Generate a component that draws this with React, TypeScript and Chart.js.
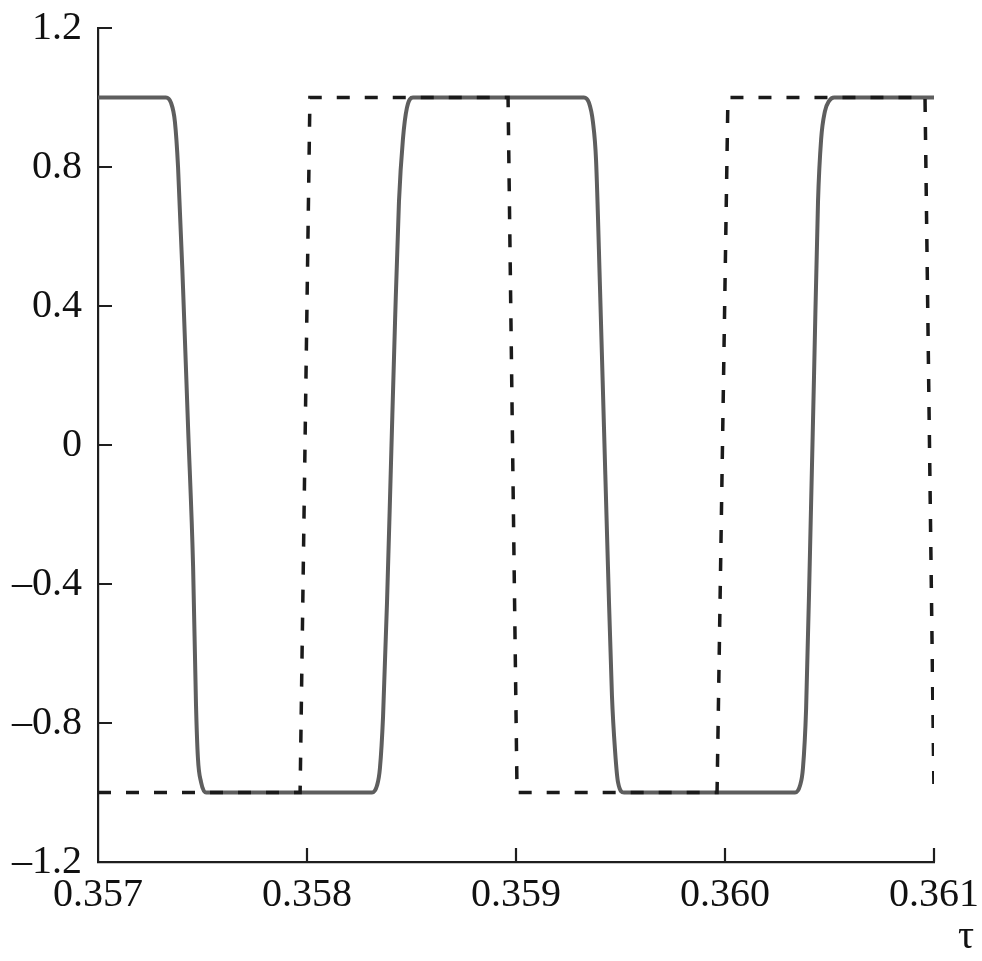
import React, { useEffect, useRef } from "react";
import { Chart, registerables } from "chart.js";

Chart.register(...registerables);

// Solid (gray) curve: tau, value
const solidTau = [
  0.357, 0.357325, 0.357349, 0.357368, 0.357383, 0.357407, 0.357431, 0.357455, 0.357469, 0.357478, 0.357493, 0.357517,
  0.358311, 0.358335, 0.358349, 0.358364, 0.358383, 0.358402, 0.358421, 0.35844, 0.358459, 0.358478, 0.358507,
  0.359325, 0.359349, 0.359368, 0.359383, 0.359402, 0.359421, 0.35944, 0.359459, 0.359474, 0.359488, 0.359517,
  0.360335, 0.360359, 0.360373, 0.360388, 0.360407, 0.360426, 0.360445, 0.36046, 0.360478, 0.360498, 0.360522,
  0.361,
];
const solidValues = [
  1.0, 1.0, 0.985, 0.93, 0.8, 0.45, 0.05, -0.35, -0.75, -0.9, -0.97, -1.0,
  -1.0, -0.98, -0.93, -0.78, -0.45, -0.05, 0.35, 0.7, 0.88, 0.97, 1.0,
  1.0, 0.985, 0.93, 0.82, 0.45, 0.05, -0.35, -0.72, -0.88, -0.97, -1.0,
  -1.0, -0.98, -0.93, -0.76, -0.3, 0.2, 0.7, 0.88, 0.96, 0.99, 1.0,
  1.0,
];

// Dashed (black) curve: tau, value
const dashedTau = [0.357, 0.357967, 0.358014, 0.358962, 0.359005, 0.359962, 0.360014, 0.360957, 0.361];
const dashedValues = [-1, -1, 1, 1, -1, -1, 1, 1, -1];

const xTickValues = [0.357, 0.358, 0.359, 0.36, 0.361];
const xTickLabels = ["0.357", "0.358", "0.359", "0.360", "0.361"];
const yTickValues = [-1.2, -0.8, -0.4, 0, 0.4, 0.8, 1.2];
const yTickLabels = ["–1.2", "–0.8", "–0.4", "0", "0.4", "0.8", "1.2"];
const xAxisTitle = "τ";

const FONT = "'Liberation Serif', 'Times New Roman', Times, serif";
const AXIS_COLOR = "#1e1e1e";

function labelFor(values: number[], labels: string[], v: number) {
  let best = 0;
  for (let i = 0; i < values.length; i++) {
    if (Math.abs(values[i] - v) < Math.abs(values[best] - v)) best = i;
  }
  return labels[best];
}

export default function App() {
  const ref = useRef<HTMLCanvasElement | null>(null);

  useEffect(() => {
    if (!ref.current) return;
    const inwardTicks = {
      id: "inwardTicks",
      afterDraw(chart: any) {
        const { ctx, chartArea, scales } = chart;
        const x = scales.x;
        const y = scales.y;
        ctx.save();
        ctx.strokeStyle = AXIS_COLOR;
        ctx.lineWidth = 2.2;
        ctx.beginPath();
        yTickValues.forEach((v) => {
          if (v === yTickValues[0]) return;
          const py = Math.round(y.getPixelForValue(v));
          ctx.moveTo(chartArea.left, py);
          ctx.lineTo(chartArea.left + 14, py);
        });
        xTickValues.forEach((v) => {
          if (v === xTickValues[0]) return;
          const px = Math.round(x.getPixelForValue(v));
          ctx.moveTo(px, chartArea.bottom);
          ctx.lineTo(px, chartArea.bottom - 14);
        });
        ctx.stroke();
        ctx.fillStyle = "#111";
        ctx.font = `40px ${FONT}`;
        ctx.textAlign = "right";
        ctx.textBaseline = "alphabetic";
        ctx.fillText(xAxisTitle, chartArea.right + 40, chartArea.bottom + 86);
        ctx.restore();
      },
    };

    const chart = new Chart(ref.current, {
      type: "line",
      data: {
        datasets: [
          {
            label: "dashed",
            data: dashedTau.map((t, i) => ({ x: t, y: dashedValues[i] })),
            borderColor: "#1a1a1a",
            borderWidth: 3.5,
            borderDash: [13, 15],
            pointRadius: 0,
            tension: 0,
            fill: false,
          },
          {
            label: "solid",
            data: solidTau.map((t, i) => ({ x: t, y: solidValues[i] })),
            borderColor: "#5e5e5e",
            borderWidth: 4,
            pointRadius: 0,
            cubicInterpolationMode: "monotone",
            fill: false,
          },
        ],
      },
      options: {
        responsive: false,
        animation: false,
        layout: { padding: { top: 28, left: 0, right: 48, bottom: 0 } },
        plugins: {
          legend: { display: false },
          tooltip: { enabled: false },
        },
        scales: {
          x: {
            type: "linear",
            min: 0.357,
            max: 0.361,
            afterBuildTicks: (scale: any) => {
              scale.ticks = xTickValues.map((v) => ({ value: v }));
            },
            afterFit: (scale: any) => {
              scale.height = 99;
              scale.paddingLeft = 0;
              scale.paddingRight = 0;
            },
            ticks: {
              color: "#111",
              font: { family: FONT, size: 40 },
              padding: 9,
              maxRotation: 0,
              autoSkip: false,
              callback: (v: any) => labelFor(xTickValues, xTickLabels, Number(v)),
            },
            grid: { display: true, drawOnChartArea: false, drawTicks: false },
            border: { display: true, color: AXIS_COLOR, width: 2.2 },
          },
          y: {
            type: "linear",
            min: -1.2,
            max: 1.2,
            afterBuildTicks: (scale: any) => {
              scale.ticks = yTickValues.map((v) => ({ value: v }));
            },
            afterFit: (scale: any) => {
              scale.width = 98;
              scale.paddingTop = 0;
              scale.paddingBottom = 0;
            },
            ticks: {
              color: "#111",
              font: { family: FONT, size: 40 },
              padding: 16,
              autoSkip: false,
              callback: (v: any) => labelFor(yTickValues, yTickLabels, Number(v)),
            },
            grid: { display: true, drawOnChartArea: false, drawTicks: false },
            border: { display: true, color: AXIS_COLOR, width: 2.2 },
          },
        },
      },
      plugins: [inwardTicks],
    });
    return () => chart.destroy();
  }, []);

  return (
    <div style={{ position: "absolute", left: 0, top: 0, width: 982, height: 961, background: "#fff" }}>
      <canvas ref={ref} width={982} height={961} style={{ display: "block" }} />
    </div>
  );
}
